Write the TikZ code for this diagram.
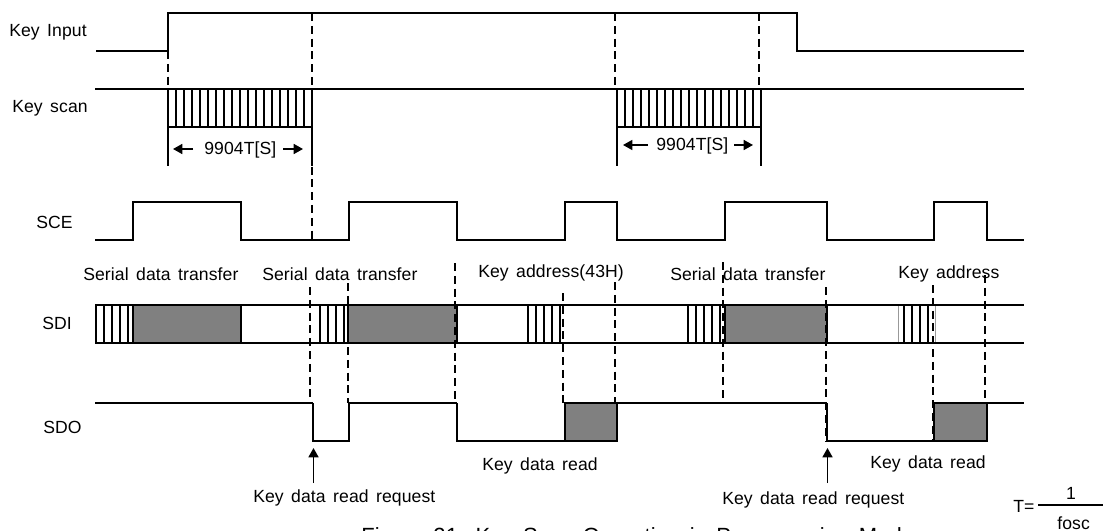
\documentclass[tikz,border=0pt]{standalone}
\usepackage{fontspec}
\setmainfont[LetterSpace=0.5,WordSpace=1.5]{Liberation Sans}
\usetikzlibrary{arrows.meta}
\definecolor{dgrey}{HTML}{808080}
\tikzset{
  sig/.style={line width=1.35pt,line cap=butt,line join=miter},
  rail/.style={line width=1.2pt},
  thin hatch/.style={line width=0.95pt},
  pale/.style={line width=0.7pt,color=black!40},
  dsh/.style={line width=1.2pt,dash pattern=on 6pt off 3.6pt},
  lab/.style={inner sep=0pt,anchor=west,font=\fontsize{13.2}{15}\selectfont},
  clab/.style={inner sep=0pt,anchor=center,font=\fontsize{13.2}{15}\selectfont},
  arr/.style={line width=1.2pt,-{Triangle[length=7pt,width=7.5pt]}},
}
\begin{document}
\begin{tikzpicture}[x=0.75pt,y=-0.75pt]
\useasboundingbox (0,0) rectangle (1103,531);
\fill[white] (0,0) rectangle (1103,531);
% grey blocks
\path[fill=dgrey] (133,305) rectangle (241,343);
\path[fill=dgrey] (348,305) rectangle (457,343);
\path[fill=dgrey] (725,305) rectangle (827,343);
% key scan hatch
\foreach \i in {0,...,18} {\draw[thin hatch] ({168+\i*8},89) -- ({168+\i*8},127);}
\foreach \i in {0,...,18} {\draw[thin hatch] ({617+\i*8},89) -- ({617+\i*8},127);}
% SDI hatch
\foreach \x in {96,104,112,120,128,133,320,328,336,344,348,528,536,544,552,560,688,696,704,712,720} {\draw[thin hatch] (\x,305) -- (\x,343);}
\foreach \x in {904,912,920,928} {\draw[thin hatch] (\x,305) -- (\x,343);}
\foreach \x in {898,935} {\draw[pale] (\x,305) -- (\x,343);}
% Key input
\draw[sig] (96,51) -- (168,51) -- (168,13) -- (797,13) -- (797,51) -- (1024,51);
% Key scan
\draw[rail] (95,89) -- (1024,89);
\draw[sig] (168,127) -- (312,127);
\draw[sig] (617,127) -- (761,127);
\draw[sig] (168,89) -- (168,166);
\draw[sig] (312,89) -- (312,166);
\draw[sig] (617,89) -- (617,166);
\draw[sig] (761,89) -- (761,166);
% SCE
\draw[sig] (95,240) -- (133,240) -- (133,202) -- (241,202) -- (241,240) -- (349,240) -- (349,202) -- (457,202) -- (457,240) -- (565,240) -- (565,202) -- (617,202) -- (617,240) -- (725,240) -- (725,202) -- (827,202) -- (827,240) -- (934,240) -- (934,202) -- (987,202) -- (987,240) -- (1024,240);
% SDI
\draw[rail] (95,305) -- (1024,305);
\draw[rail] (95,343) -- (1024,343);
\foreach \x in {133,241,348,457,725,827} {\draw[sig] (\x,305) -- (\x,343);}
% SDO
\path[fill=dgrey] (565,403) rectangle (617,441);
\path[fill=dgrey] (934,403) rectangle (987,441);
\draw[rail] (95,403) -- (313,403);
\draw[sig] (313,403) -- (313,441) -- (349,441) -- (349,403);
\draw[rail] (349,403) -- (457,403);
\draw[sig] (457,403) -- (457,441) -- (565,441) -- (565,403) -- (617,403) -- (617,441) -- (565,441);
\draw[rail] (617,403) -- (827,403);
\draw[sig] (827,403) -- (827,441) -- (934,441) -- (934,403) -- (987,403) -- (987,441) -- (934,441);
\draw[rail] (987,403) -- (1024,403);
% dashed guides
\draw[dsh] (168,51) -- (168,89);
\draw[dsh] (312,13) -- (312,240);
\draw[dsh] (615,13) -- (615,89);
\draw[dsh] (759,13) -- (759,89);
\draw[dsh] (310,287) -- (310,403);
\draw[dsh] (348,283) -- (348,403);
\draw[dsh] (455,263) -- (455,403);
\draw[dsh] (563,293) -- (563,403);
\draw[dsh] (615,282) -- (615,403);
\draw[dsh] (723,262) -- (723,403);
\draw[dsh] (826,287) -- (826,441);
\draw[dsh] (933,285) -- (933,441);
\draw[dsh] (985,275) -- (985,403);
% labels
\node[lab] (kinput) at (9,32) {Key Input};
\node[lab] (kscan) at (12,108) {Key scan};
\node[lab] (sce) at (36,222) {SCE};
\node[lab] (sdi) at (42,323) {SDI};
\node[lab] (sdo) at (43,427) {SDO};
\node[lab] (dur1) at (204,150) {9904T[S]};
\node[lab] (dur2) at (656,146) {9904T[S]};
\coordinate (d1l) at (193,149); \coordinate (d1lt) at (173,149);
\coordinate (d1r) at (283,149); \coordinate (d1rt) at (303,149);
\coordinate (d2l) at (648,145); \coordinate (d2lt) at (623,145);
\coordinate (d2r) at (734,145); \coordinate (d2rt) at (753,145);
\draw[arr] (d1l) -- (d1lt);
\draw[arr] (d1r) -- (d1rt);
\draw[arr] (d2l) -- (d2lt);
\draw[arr] (d2r) -- (d2rt);
\node[lab] (t1) at (83,274) {Serial data transfer};
\node[lab] (t2) at (262,274) {Serial data transfer};
\node[lab] (t3) at (670,274) {Serial data transfer};
\node[lab] (a1) at (478,273) {Key address(43H)};
\node[lab] (a2) at (898,274) {Key address};
\node[lab] (r1) at (482,466) {Key data read};
\node[lab] (r2) at (870,464) {Key data read};
\node[lab] (q1) at (253,498) {Key data read request};
\node[lab] (q2) at (722,500) {Key data read request};
\coordinate (u1) at (313.5,483); \coordinate (u1t) at (313.5,448);
\coordinate (u2) at (827.5,483); \coordinate (u2t) at (827.5,448);
\draw[arr] (u1) -- (u1t);
\draw[arr] (u2) -- (u2t);
\node[lab] (teq) at (1013,506) {T=};
\coordinate (fa) at (1038,505); \coordinate (fb) at (1103,505);
\draw[line width=1.1pt] (fa) -- (fb);
\node[clab] (one) at (1071,493) {1};
\node[lab] (fosc) at (1057,523) {fosc};
\node[inner sep=0pt,anchor=base west,font=\fontsize{16.5}{19}\selectfont] (cap) at (361,543) {Figure 21. Key Scan Operation in Programming Mode};
\end{tikzpicture}
\end{document}
